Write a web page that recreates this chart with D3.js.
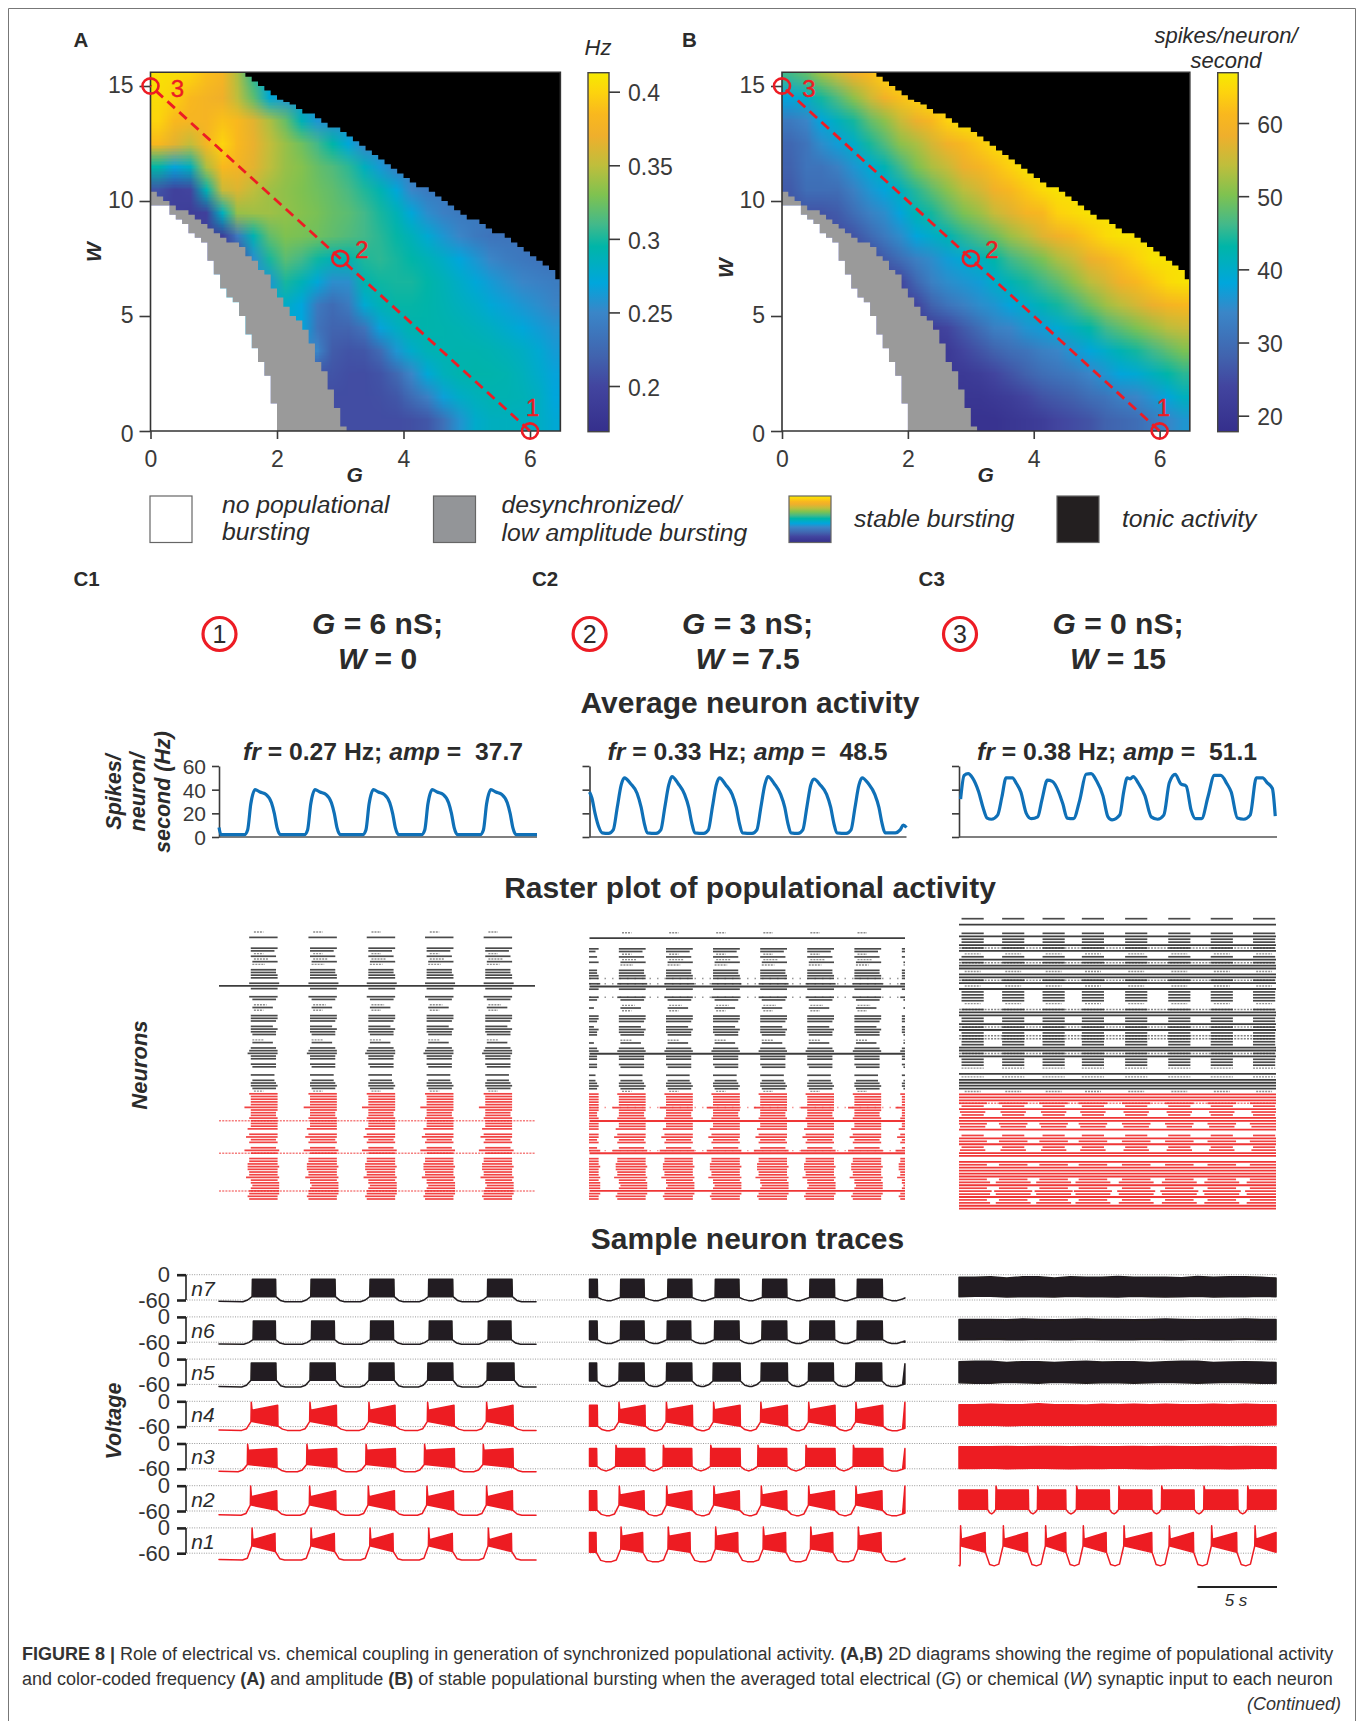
<!DOCTYPE html>
<html><head><meta charset="utf-8">
<script src="https://cdn.jsdelivr.net/npm/d3@7"></script>
<style>
html,body{margin:0;padding:0;background:#fff}
svg{display:block}
text{font-family:"Liberation Sans",Arial,sans-serif;fill:#2b2b2b;white-space:pre}
.ax path,.ax line{stroke:#3a3a3a;stroke-width:1.6}
.ax text{font-size:23px;fill:#3a3a3a}
</style></head><body>
<svg id="fig" width="1362" height="1721"></svg>
<script>
// ---------- colour map ----------
const cmapPos=[0,.127,.209,.332,.414,.516,.578,.66,.742,.824,.885,.947,1];
const cmapCol=["#352f8c","#42459f","#4163ae","#3a86c8","#00a6dc","#00b5a8","#43b98a","#7fc250","#bfbe3c","#efaf2c","#f9b81e","#fdd40d","#f6ea00"];
const barFreqRange=[.169,.413], barAmpRange=[17.8,66.9];
// ---------- regime boundaries (W value for each 0.1 step of G) ----------
const boundaryStep=.1;
const blackW=[15.8,15.8,15.8,15.8,15.8,15.8,15.8,15.8,15.8,15.8,15.8,15.8,15.8,15.8,15.6,15.4,15.2,15.0,14.8,14.6,14.4,14.3,14.2,14.0,13.8,13.8,13.6,13.4,13.2,13.2,13.0,12.8,12.6,12.4,12.2,12.0,11.8,11.6,11.4,11.2,11.0,10.8,10.6,10.6,10.4,10.2,10.0,9.8,9.6,9.4,9.2,9.2,9.0,8.8,8.6,8.6,8.4,8.2,8.0,7.8,7.6,7.4,7.2,7.0,6.6,6.4];
const stableW=[10.4,10.2,10.0,9.8,9.6,9.6,9.4,9.2,9.0,8.8,8.6,8.4,8.2,8.2,8.0,7.6,7.4,7.0,6.8,6.2,5.8,5.4,5.0,4.8,4.4,3.8,3.0,2.6,1.8,1.0,0.2,0];
const whiteW=[9.8,9.8,9.8,9.4,9.2,9.0,8.6,8.4,8.2,7.4,6.8,6.2,5.8,5.6,5.0,4.2,3.6,3.0,2.4,1.2,0];
// ---------- heat map tables: rows W=15.5 ... 0.5, columns G=0.125 ... 6.375 ----------
const freqRows=[
[.408,.405,.400,.388,.380,.345,.305,.270,.260,.260,.260,.260,.260,.260,.260,.260,.260,.260,.260,.260,.260,.260,.260,.260,.260,.260],
[.405,.398,.385,.378,.372,.350,.320,.275,.260,.260,.260,.260,.260,.260,.260,.260,.260,.260,.260,.260,.260,.260,.260,.260,.260,.260],
[.400,.385,.380,.380,.390,.385,.365,.345,.322,.288,.260,.255,.255,.255,.255,.255,.255,.255,.255,.255,.255,.255,.255,.255,.255,.255],
[.385,.365,.352,.380,.400,.385,.368,.352,.338,.325,.310,.295,.272,.250,.250,.250,.250,.250,.250,.250,.250,.250,.250,.250,.250,.250],
[.295,.268,.285,.345,.385,.378,.365,.350,.338,.332,.322,.315,.305,.285,.262,.245,.245,.245,.245,.245,.245,.245,.245,.245,.245,.245],
[.210,.195,.200,.290,.355,.362,.350,.340,.335,.330,.325,.320,.312,.302,.290,.272,.250,.240,.240,.240,.240,.240,.240,.240,.240,.240],
[.195,.195,.190,.195,.285,.338,.340,.340,.336,.332,.328,.322,.318,.310,.300,.288,.272,.255,.245,.240,.240,.240,.240,.240,.240,.240],
[.195,.195,.195,.195,.190,.240,.290,.320,.330,.328,.325,.320,.315,.310,.304,.296,.287,.275,.260,.250,.240,.235,.235,.235,.235,.235],
[.195,.195,.195,.195,.195,.195,.255,.300,.318,.310,.298,.288,.292,.302,.305,.300,.295,.288,.280,.270,.260,.250,.242,.238,.235,.232],
[.260,.260,.260,.260,.260,.260,.260,.260,.300,.288,.272,.255,.255,.292,.298,.300,.300,.295,.288,.280,.272,.263,.256,.250,.246,.242],
[.280,.280,.280,.280,.280,.280,.280,.280,.280,.270,.240,.228,.240,.275,.288,.296,.296,.294,.290,.285,.280,.273,.266,.260,.255,.248],
[.270,.270,.270,.270,.270,.270,.270,.270,.270,.270,.235,.222,.222,.235,.268,.282,.292,.293,.292,.290,.287,.283,.277,.271,.264,.258],
[.250,.250,.250,.250,.250,.250,.250,.250,.250,.250,.250,.215,.210,.212,.228,.260,.278,.288,.291,.292,.292,.290,.287,.282,.275,.263],
[.210,.210,.210,.210,.210,.210,.210,.210,.210,.210,.210,.210,.206,.205,.210,.225,.250,.273,.286,.292,.294,.293,.291,.286,.278,.268],
[.205,.205,.205,.205,.205,.205,.205,.205,.205,.205,.205,.205,.205,.205,.207,.212,.228,.245,.266,.280,.286,.290,.290,.288,.283,.270],
[.205,.205,.205,.205,.205,.205,.205,.205,.205,.205,.205,.205,.205,.205,.205,.205,.207,.212,.232,.258,.278,.284,.285,.284,.282,.274]];
const ampRows=[
[46,48,52,55,58,61,64,66,66,66,66,66,66,66,66,66,66,66,66,66,66,66,66,66,66,66],
[38,40,44,47,51,55,59,62,64,66,66,66,66,66,66,66,66,66,66,66,66,66,66,66,66,66],
[32,34,38,41,44,48,51,55,58,61,64,66,66,66,66,66,66,66,66,66,66,66,66,66,66,66],
[29,31,35,37,40,44,47,51,53,56,59,61,63,65,66,66,66,66,66,66,66,66,66,66,66,66],
[28,31,31,33,36,39,42,46,50,53,55,58,60,62,64,66,66,66,66,66,66,66,66,66,66,66],
[27,30,30,30,33,36,38,41,45,48,51,54,56,59,61,63,65,66,66,66,66,66,66,66,66,66],
[26,26,26,27,30,33,35,38,42,44,47,50,52,55,57,60,61,64,65,66,66,66,66,66,66,66],
[25,25,25,25,26,29,32,35,38,40,42,45,47,49,52,54,57,59,61,63,65,66,66,66,66,66],
[24,24,24,24,24,24,27,30,33,35,37,39,41,43,46,48,50,53,55,58,60,62,64,66,66,66],
[23,23,23,23,23,23,23,24,29,33,35,36,37,40,42,44,46,48,51,54,56,59,61,63,65,66],
[23,23,23,23,23,23,23,23,24,28,31,33,35,36,38,40,42,44,46,49,52,54,56,58,60,61],
[22,22,22,22,22,22,22,22,22,22,24,27,30,33,34,36,37,39,41,43,46,48,50,52,54,55],
[21,21,21,21,21,21,21,21,21,21,21,24,26,28,30,31,33,34,36,38,40,42,44,46,48,50],
[21,21,21,21,21,21,21,21,21,21,21,21,22,24,26,28,30,31,32,34,36,38,39,41,43,45],
[20,20,20,20,20,20,20,20,20,20,20,20,20,21,22,24,26,27,28,30,31,33,34,36,38,41],
[19,19,19,19,19,19,19,19,19,19,19,19,19,19,20,21,22,24,25,26,28,29,30,32,34,36]];
const freqTicks=[.2,.25,.3,.35,.4], ampTicks=[20,30,40,50,60];
const gTicks=[0,2,4,6], wTicks=[0,5,10,15];
const pathPoints=[[6,0,"1"],[3,7.5,"2"],[0,15,"3"]];
// ---------- average neuron activity ----------
const c1Time=[0,.12,1.6,1.8,2,2.27,2.58,2.96,3.3,3.48,3.65,3.86,5.37,5.57,5.77,6.04,6.35,6.73,7.07,7.25,7.42,7.63,9.04,9.24,9.44,9.71,10.02,10.4,10.74,10.92,11.09,11.3,12.74,12.94,13.14,13.41,13.72,14.1,14.44,14.62,14.79,15,16.43,16.63,16.83,17.1,17.41,17.79,18.13,18.31,18.48,18.69,20];
const c1Rate=[8,2,2,6,28,40,38,36,29,20,8,2,2,6,28,40,38,36,29,20,8,2,2,6,28,40,38,36,29,20,8,2,2,6,28,40,38,36,29,20,8,2,2,6,28,40,38,36,29,20,8,2,2];
const c2Time=[0,.15,.35,.6,.8,1.2,1.5,1.75,2,2.2,2.6,3,3.26,3.45,3.65,4.2,4.5,4.75,5,5.2,5.6,6,6.26,6.45,6.65,7.2,7.5,7.75,8,8.2,8.6,9,9.26,9.45,9.65,10.26,10.56,10.81,11.06,11.26,11.66,12.06,12.32,12.51,12.71,13.16,13.46,13.71,13.96,14.16,14.56,14.96,15.22,15.41,15.61,16.2,16.5,16.75,17,17.2,17.6,18,18.26,18.45,18.65,19.3,19.6,19.8,20];
const c2Rate=[38,33,20,8,3.5,3,6,25,44,50,45,37,25,12,3.5,3,6,25,44,51,45,36,25,12,3.5,3,6,25,44,50,44,36,25,12,3.5,3,6,25,44,51,45,36,25,12,3.5,3,6,25,44,49,44,36,25,12,3.5,3,6,25,44,50,45,36,25,12,3.5,3.5,6,10,8];
const c3Time=[.1,.32,.58,.85,1.24,1.51,1.77,2.04,2.43,2.7,2.96,3.36,3.62,3.89,4.23,4.55,4.95,5.21,5.56,5.87,6.27,6.53,6.8,7.2,7.59,7.99,8.31,8.65,9.05,9.37,9.63,10.11,10.37,10.58,10.77,10.95,11.3,11.69,12.09,12.49,12.88,13.23,13.6,13.94,14.29,14.6,14.87,15.26,15.66,16.06,16.46,16.85,17.12,17.51,17.91,18.31,18.7,19.1,19.37,19.71,19.89];
const c3Rate=[32,52,53.6,50,38,25,16,15,18.5,34,50,50,45,38,20,15.5,17,31,48,47,38,28,16,15.5,31,53,53.6,47.5,35,17,14.4,18.5,39,50,49,51,45,35,17,15,18.5,46,53,45,43,22.7,15.5,15.5,34,52,52,45,38,16,15,18.5,50,50,46,41,17.7];
const rateTicks=[0,20,40,60];
// ---------- raster rows (100 neurons, top to bottom) ----------
const c1RowKinds="s.B...BBsBsBs.BBBB.BFB..BB.sBs.BBB.BBBB.sB.BBBBB.BB..B.BBBBsBBBBBBBBBBfBBB.BBBB.BBf.BBBBBBBBBBBBfBBB";
const c2RowKinds="s.F...BBsBsBs.BBBg.gFB..gB.sBs.BBB.BBBB.sB.BBFBB.BB..B.BBBBsBBBBBgBBBBFBBB.BBBB.BgF.BBBBBBBBBBBBFBBB";
const c3RowKinds="B.F..BFBBFfFsBFfFFsFFfFsFBBBBs.fFFBBFfFBffBBFFfFBBBs.FsFFFFsFFFfBFBBFFBBF.BFBFBBFF.FBFFFFBBFBBBFBBFF";
const rowLeadTenths="6090008868677088880988009706760888088870770 89a88087008078876 98888c8889888a09b8908c8099aaa99b887899a9".replace(/ /g,"");
const rowTrailTenths="0090009708391088990a9900980260099806988006089988088007078980999999988999990998908a90999a999a9aaaaa99";
const c3RowHalfTenths="7777777777775777775777757777757777777777777777777777577777759999798799989979997899999a9999bc9cba9b999";
const c1Bursts=[2.81,6.56,10.25,13.94,17.65];
const c2Bursts=[-.32,2.66,5.65,8.63,11.62,14.6,17.59,20.6];
const c3Bursts=[.86,3.42,5.97,8.45,11.18,13.9,16.58,19.25];
// ---------- sample traces, mV ----------
const traceNames=["n7","n6","n5","n4","n3","n2","n1"];
const c1Traces=[
{on:[2.10,5.79,9.50,13.19,16.90],off:[3.56,7.30,11.00,14.70,18.43],top:[-11,-11],bot:[-52,-52],base:-64},
{on:[2.16,5.83,9.54,13.23,16.94],off:[3.54,7.25,10.96,14.65,18.36],top:[-10,-10],bot:[-54,-54],base:-65},
{on:[2.03,5.74,9.45,13.14,16.88],off:[3.58,7.30,11.00,14.70,18.55],top:[-9,-9],bot:[-50,-50],base:-66},
{on:[2.03,5.72,9.43,13.12,16.83],off:[3.69,7.38,11.07,14.78,18.49],top:[-21,-9.5],bot:[-48,-59],base:-69,tip:-2},
{on:[1.80,5.53,9.25,12.93,16.62],off:[3.63,7.40,11.09,14.80,18.49],top:[-16,-12],bot:[-50,-57],base:-67,tip:-2},
{on:[1.99,5.70,9.39,13.08,16.83],off:[3.63,7.34,11.03,14.74,18.45],top:[-26,-12],bot:[-46,-58],base:-70,tip:-1},
{on:[2.08,5.79,9.50,13.19,16.94],off:[3.52,7.25,10.94,14.67,18.39],top:[-28,-13],bot:[-43,-56],base:-76,tip:0}];
const c2Traces=[
{on:[0,1.97,4.95,7.94,10.93,13.91,16.90],off:[.49,3.44,6.45,9.43,12.44,15.45,18.47],top:[-11,-11],bot:[-54,-54],base:-61.5,endV:-55},
{on:[0,1.97,4.91,7.90,10.89,13.91,16.90],off:[.48,3.44,6.38,9.43,12.44,15.45,18.47],top:[-10,-10],bot:[-54,-54],base:-63,endV:-60},
{on:[0,1.88,4.87,7.81,10.84,13.83,16.81],off:[.45,3.44,6.45,9.50,12.48,15.38,18.43],top:[-9,-9],bot:[-52,-52],base:-65,endV:-11},
{on:[0,1.86,4.85,7.83,10.81,13.83,16.81],off:[.49,3.50,6.49,9.50,12.48,15.49,18.50],top:[-20,-9.5],bot:[-49,-59],base:-70,tip:-2,endV:-2},
{on:[0,1.67,4.66,7.65,10.63,13.66,16.65],off:[.45,3.48,6.45,9.50,12.44,15.49,18.50],top:[-12,-12],bot:[-54,-54],base:-65,tip:-4,endV:-12},
{on:[0,1.88,4.87,7.85,10.84,13.83,16.81],off:[.45,3.44,6.45,9.45,12.44,15.45,18.45],top:[-22,-12],bot:[-46,-58],base:-71,tip:-1,endV:-1},
{on:[0,1.99,4.97,7.96,10.97,13.96,16.96],off:[.41,3.35,6.34,9.35,12.37,15.34,18.39],top:[-20,-11],bot:[-50,-58],base:-80,tip:2,endV:-72}];
const tonicStep=1;
const tonicN7Top=[-6,-6,-5,-8,-5,-5,-8,-5,-6,-6,-4,-6,-6,-6,-7,-4,-6,-5,-5,-6,-8];
const tonicN7Bot=[-52,-51,-51,-53,-52,-52,-53,-51,-52,-52,-53,-51,-52,-53,-52,-51,-53,-52,-52,-51,-52];
const tonicN6Top=[-6,-6,-6,-7,-5,-6,-7,-6,-5,-6,-6,-7,-6,-5,-6,-7,-6,-6,-5,-6,-6];
const tonicN6Bot=[-54,-54,-53,-54,-54,-53,-54,-54,-53,-54,-54,-54,-53,-54,-54,-53,-54,-54,-53,-54,-54];
const tonicN5Top=[-6,-5,-5,-8,-6,-6,-8,-6,-5,-7,-6,-6,-8,-6,-5,-5,-8,-7,-6,-7,-8];
const tonicN5Bot=[-56,-57,-57,-55,-56,-57,-55,-56,-57,-56,-56,-57,-56,-55,-56,-57,-56,-55,-56,-57,-57];
const tonicN4Top=[-8,-8,-7,-8,-8,-6,-8,-8,-9,-7,-8,-7,-8,-7,-8,-8,-7,-8,-7,-8,-8];
const tonicN4Bot=[-57,-57,-56,-58,-57,-57,-56,-57,-56,-57,-57,-57,-56,-57,-57,-56,-57,-57,-56,-57,-56];
const tonicN3Top=[-8,-8,-8,-7,-8,-7,-7,-8,-7,-8,-8,-7,-8,-7,-8,-8,-7,-8,-7,-8,-8];
const tonicN3Bot=[-59,-59,-58,-60,-59,-58,-59,-60,-59,-59,-58,-59,-60,-59,-58,-59,-59,-60,-59,-58,-59];
const c3Traces=[
{tonicTop:tonicN7Top,tonicBot:tonicN7Bot},{tonicTop:tonicN6Top,tonicBot:tonicN6Bot},{tonicTop:tonicN5Top,tonicBot:tonicN5Bot},
{tonicTop:tonicN4Top,tonicBot:tonicN4Bot},{tonicTop:tonicN3Top,tonicBot:tonicN3Bot},
{on:[0,2.33,4.95,7.40,10.06,12.75,15.41,18.16],off:[1.78,4.36,6.71,9.45,12.12,14.78,17.53,19.94],top:[-10,-10],bot:[-56,-56],base:-67,tip:-1},
{on:[.1,2.79,5.45,7.82,10.38,13.23,15.89,18.62],off:[1.64,4.30,6.71,9.25,12.12,14.74,17.46,19.94],top:[-27,-11],bot:[-43,-58],base:-90,tip:5}];
const blackTraceCount=3;
const voltTicks=[0,-60];

// ---------- drawing ----------
const svg=d3.select("#fig");
const defs=svg.append("defs");
function softFilter(id,sd){const f=defs.append("filter").attr("id",id).attr("filterUnits","userSpaceOnUse").attr("x",0).attr("y",0).attr("width",1362).attr("height",1721);
  f.append("feGaussianBlur").attr("stdDeviation",sd);}
softFilter("soft",.6);softFilter("soft2",.3);
const RED="#ed1c24",BLK="#231f20";
const ramp=d3.scaleLinear().domain(cmapPos).range(cmapCol).interpolate(d3.interpolateRgb).clamp(true);
const gradId=(id)=>{const g=defs.append("linearGradient").attr("id",id).attr("x1",0).attr("x2",0).attr("y1",1).attr("y2",0);
  cmapPos.forEach((p,i)=>g.append("stop").attr("offset",p).attr("stop-color",cmapCol[i]));};
gradId("bar");

function label(x,y,t,o={}){const e=svg.append("text").attr("x",x).attr("y",y).attr("dy",".35em").text(t)
  .attr("text-anchor",o.anchor||"start").style("font-size",(o.size||20)+"px")
  .style("font-weight",o.bold?"bold":"normal").style("font-style",o.italic?"italic":"normal");
  if(o.fill)e.style("fill",o.fill);
  if(o.rot)e.attr("transform",`rotate(${o.rot} ${x} ${y})`);return e;}

svg.append("path").attr("d","M8.5,1721V8.5H1355.5V1721").attr("fill","none").attr("stroke","#777").attr("stroke-width",1);

function heatPanel(o){
  const g=svg.append("g");
  const x=d3.scaleLinear().domain([0,6]).range(o.xr);
  const y=d3.scaleLinear().domain([0,15]).range([431,86]);
  const v2p=d3.scaleLinear().domain(o.range).range([0,1]);
  const rows=o.rows,cnv=document.createElement("canvas");
  cnv.width=rows[0].length;cnv.height=rows.length;
  const ctx=cnv.getContext("2d");
  rows.forEach((r,j)=>r.forEach((v,i)=>{ctx.fillStyle=ramp(v2p(v));ctx.fillRect(i,j,1,1);}));
  const right=x(6.48),top=y(15.6),clip="clip"+o.id;
  defs.append("clipPath").attr("id",clip).append("rect").attr("x",x(0)).attr("y",top).attr("width",right-x(0)).attr("height",y(0)-top);
  const inner=g.append("g").attr("clip-path",`url(#${clip})`);
  inner.append("image").attr("href",cnv.toDataURL()).attr("x",x(0)).attr("y",y(16)).attr("width",x(6.5)-x(0)).attr("height",y(0)-y(16)).attr("preserveAspectRatio","none");
  const gOf=(d,i)=>x(i*boundaryStep);
  inner.append("path").attr("fill","#000").attr("d",d3.area().x(gOf).y0(top-2).y1(d=>y(d)).curve(d3.curveStepAfter)(blackW));
  inner.append("path").attr("fill","#9a9a9a").attr("d",d3.area().x(gOf).y0((d,i)=>y(whiteW[i]||0)).y1(d=>y(d)).curve(d3.curveStepAfter)(stableW));
  inner.append("path").attr("fill","#fff").attr("d",d3.area().x(gOf).y0(y(0)).y1(d=>y(d)).curve(d3.curveStepAfter)(whiteW));
  g.append("path").attr("fill","none").attr("stroke","#333").attr("stroke-width",1.6)
    .attr("d",`M${x(0)},${top}H${right}V${y(0)}H${x(0)}Z`);
  const xa=g.append("g").attr("class","ax").attr("transform",`translate(0,${y(0)})`).call(d3.axisBottom(x).tickValues(gTicks).tickFormat(d=>String(d)).tickSize(8).tickPadding(12).tickSizeOuter(0));
  xa.select(".domain").remove();
  const ya=g.append("g").attr("class","ax").attr("transform",`translate(${x(0)},0)`).call(d3.axisLeft(y).tickValues(wTicks).tickFormat(d=>String(d)).tickSize(11).tickPadding(6).tickSizeOuter(0));
  ya.select(".domain").remove();
  ya.selectAll("text").attr("dy",d=>d===0?".45em":".27em");
  // colour bar
  const bar=d3.scaleLinear().domain(o.barTicksRef[0]).range(o.barTicksRef[1]);
  g.append("rect").attr("x",o.barX).attr("y",72.7).attr("width",o.barW).attr("height",359).attr("fill","url(#bar)").attr("stroke","#444").attr("stroke-width",1.4);
  const ba=g.append("g").attr("class","ax").attr("transform",`translate(${o.barX+o.barW},0)`).call(d3.axisRight(bar).tickValues(o.ticks).tickFormat(o.fmt).tickSize(11).tickPadding(8).tickSizeOuter(0));
  ba.select(".domain").remove();
  ba.selectAll("text").attr("dy",".4em");
  // selected path
  const pts=pathPoints;
  g.append("line").attr("x1",x(pts[0][0])).attr("y1",y(pts[0][1])).attr("x2",x(pts[2][0])).attr("y2",y(pts[2][1])).attr("stroke",RED).attr("stroke-width",2.8).attr("stroke-dasharray","10 6");
  g.selectAll(".pt").data(pts).join("ellipse").attr("cx",d=>x(d[0])).attr("cy",d=>y(d[1])).attr("rx",8).attr("ry",7.6).attr("fill","none").attr("stroke",RED).attr("stroke-width",2.6);
  o.numLabels.forEach((p,i)=>{label(p[0],p[1],pts[i][2],{size:24,fill:RED,anchor:"middle"}).attr("stroke",RED).attr("stroke-width",.4);});
}
heatPanel({id:"A",xr:[150.5,530],rows:freqRows,range:barFreqRange,barX:588,barW:21,barTicksRef:[[.2,.4],[386,91.7]],ticks:freqTicks,fmt:d=>String(d),numLabels:[[532.7,408],[362,250],[177.5,89]]});
heatPanel({id:"B",xr:[782,1159.6],rows:ampRows,range:barAmpRange,barX:1217.7,barW:20.5,barTicksRef:[[20,60],[415.7,123]],ticks:ampTicks,fmt:d=>String(d),numLabels:[[1163.5,408],[992,250],[809,89]]});

label(73.5,40,"A",{size:20.5,bold:true});label(682,40,"B",{size:20.5,bold:true});
label(598,47.5,"Hz",{size:22,italic:true,anchor:"middle"});
label(1226,35,"spikes/neuron/",{size:22,italic:true,anchor:"middle"});
label(1226,60,"second",{size:22,italic:true,anchor:"middle"});
label(93.5,252,"W",{size:21,bold:true,italic:true,anchor:"middle",rot:-90});
label(725.5,268,"W",{size:21,bold:true,italic:true,anchor:"middle",rot:-90});
label(354.7,475,"G",{size:21,bold:true,italic:true,anchor:"middle"});
label(985.7,475,"G",{size:21,bold:true,italic:true,anchor:"middle"});

// legend
const lg=[[150,"#fff"],[433.5,"#939598"],[789,"url(#bar)"],[1057,"#231f20"]];
svg.selectAll(".lg").data(lg).join("rect").attr("x",d=>d[0]).attr("y",496).attr("width",42).attr("height",46.5).attr("fill",d=>d[1]).attr("stroke","#666").attr("stroke-width",1.2);
[[222,504,"no populational"],[222,531,"bursting"],[501.5,504,"desynchronized/"],[501.5,532,"low amplitude bursting"],[854,518,"stable bursting"],[1122,518,"tonic activity"]]
 .forEach(d=>label(d[0],d[1],d[2],{size:24.7,italic:true}));

// column heads
[[73.5,"C1"],[532,"C2"],[918.6,"C3"]].forEach(d=>label(d[0],579,d[1],{size:20.5,bold:true}));
function mixed(x,y,parts,size,anchor="middle"){const t=svg.append("text").attr("x",x).attr("y",y).attr("dy",".35em").attr("text-anchor",anchor).style("font-size",size+"px").style("font-weight","bold");
  parts.forEach(p=>t.append("tspan").style("font-style",p[1]?"italic":"normal").style("font-weight",p[2]===0?"normal":"bold").text(p[0]));return t;}
[[219.5,377.5,"1","6","0"],[589.6,747.5,"2","3","7.5"],[960,1118,"3","0","15"]].forEach(d=>{
  svg.append("circle").attr("cx",d[0]).attr("cy",634).attr("r",16.5).attr("fill","#fff").attr("stroke",RED).attr("stroke-width",3.2);
  label(d[0],634.5,d[2],{size:25,anchor:"middle"});
  mixed(d[1],623,[["G",1],[" = "+d[3]+" nS;",0]],30);
  mixed(d[1],658.5,[["W",1],[" = "+d[4],0]],30);
});
label(750,702,"Average neuron activity",{size:30,bold:true,anchor:"middle"});
label(750,887,"Raster plot of populational activity",{size:30,bold:true,anchor:"middle"});
label(747.5,1238,"Sample neuron traces",{size:30,bold:true,anchor:"middle"});
[[383,"0.27","37.7"],[747.5,"0.33","48.5"],[1117,"0.38","51.1"]].forEach(d=>mixed(d[0],751,[["fr",1],[" = "+d[1]+" Hz; ",0],["amp",1],[" =  "+d[2],0]],24.7));
label(113,792,"Spikes/",{size:21.5,bold:true,italic:true,anchor:"middle",rot:-90});
label(137,792,"neuron/",{size:21.5,bold:true,italic:true,anchor:"middle",rot:-90});
label(162,792,"second (Hz)",{size:21.5,bold:true,italic:true,anchor:"middle",rot:-90});
label(139.5,1065,"Neurons",{size:22,bold:true,italic:true,anchor:"middle",rot:-90});
label(113,1421,"Voltage",{size:21.5,bold:true,italic:true,anchor:"middle",rot:-90});

// average activity
const panelsX=[[219,537],[589.5,906.5],[959,1277]];
const rateY=d3.scaleLinear().domain([0,60]).range([837,766]);
[[c1Time,c1Rate],[c2Time,c2Rate],[c3Time,c3Rate]].forEach((d,k)=>{
  const x=d3.scaleLinear().domain([0,20]).range(panelsX[k]);
  const g=svg.append("g");
  const a=g.append("g").attr("class","ax").attr("transform",`translate(${panelsX[k][0]},0)`)
    .call(d3.axisLeft(rateY).tickValues(rateTicks).tickSize(7).tickPadding(6).tickSizeOuter(0));
  a.selectAll("text").style("font-size","21px").attr("dy",".36em");
  if(k>0)a.selectAll("text").remove();
  g.append("line").attr("x1",panelsX[k][0]).attr("x2",panelsX[k][1]).attr("y1",rateY(0)).attr("y2",rateY(0)).attr("stroke","#555").attr("stroke-width",1.4);
  g.append("path").attr("fill","none").attr("stroke","#0f70b7").attr("stroke-width",3.2).attr("stroke-linejoin","round")
   .attr("d",d3.line().x((v,i)=>x(d[0][i])).y(v=>rateY(v)).curve(d3.curveMonotoneX)(d[1]));
});

// raster
const rasterGroup=svg.append("g").attr("filter","url(#soft)");
function rasterPanel(xr,yr,kinds,bursts,halves){
  const x=d3.scaleLinear().domain([0,20]).range(xr),y=d3.scaleLinear().domain([0,99]).range(yr);
  const id="cr"+Math.round(xr[0]);
  defs.append("clipPath").attr("id",id).append("rect").attr("x",xr[0]).attr("y",yr[0]-4).attr("width",xr[1]-xr[0]).attr("height",yr[1]-yr[0]+8);
  const g=rasterGroup.append("g").attr("clip-path",`url(#${id})`);
  const segs=[];
  kinds.split("").forEach((k,i)=>{
    if(k===".")return;
    const col=i>=60?"#ef2b2b":"#333";
    if(k==="F"){segs.push({a:0,b:20,i,col,w:1.8,op:.95});return;}
    if(k==="f")segs.push({a:0,b:20,i,col,w:1.5,op:.6,dash:"2 1.2"});
    if(k==="g")segs.push({a:0,b:20,i,col,w:1.4,op:.5,dash:"1.5 6"});
    bursts.forEach(c=>{
      let l,r;
      if(halves){l=r=parseInt(halves[i],36)/10;}
      else{l=parseInt(rowLeadTenths[i],36)/10;r=parseInt(rowTrailTenths[i],36)/10;}
      segs.push(k==="s"?{a:c-l,b:c+r,i,col,w:1.4,op:.55,dash:"2 1"}:{a:c-l,b:c+r,i,col,w:1.7,op:.88});
    });
  });
  g.selectAll("line").data(segs).join("line").attr("x1",d=>x(d.a)).attr("x2",d=>x(d.b)).attr("y1",d=>y(d.i)).attr("y2",d=>y(d.i))
    .attr("stroke",d=>d.col).attr("stroke-width",d=>d.w).attr("opacity",d=>d.op).attr("stroke-dasharray",d=>d.dash||null);
}
rasterPanel([219,535],[932,1199],c1RowKinds,c1Bursts);
rasterPanel([589.5,905],[932.7,1199],c2RowKinds,c2Bursts);
rasterPanel([959,1276],[918.7,1208.7],c3RowKinds,c3Bursts,c3RowHalfTenths);

// traces
function envelope(tr,tEnd){
  if(tr.tonicTop)return tr.tonicTop.map((v,i)=>({t:Math.min(i*tonicStep,tEnd),hi:v,lo:tr.tonicBot[i]}));
  const p=[],b=tr.base;
  let prev=null;
  tr.on.forEach((on,k)=>{
    const off=tr.off[k];
    if(on===0){p.push({t:0,hi:tr.top[1],lo:tr.bot[1]});p.push({t:off,hi:tr.top[1],lo:tr.bot[1]});prev=off;return;}
    const start=prev===null?0:prev,g=on-start,f=Math.min(.3,g*.25);
    if(prev===null)p.push({t:0,hi:b+1,lo:b+1});
    else{p.push({t:start+.02,hi:tr.bot[1],lo:tr.bot[1]});p.push({t:start+f,hi:b+3,lo:b+3});p.push({t:start+2*f,hi:b,lo:b});}
    p.push({t:on-2*f,hi:b,lo:b});p.push({t:on-f,hi:b+4,lo:b+4});p.push({t:on-.02,hi:tr.bot[0],lo:tr.bot[0]});
    p.push({t:on,hi:tr.tip!==undefined?tr.tip:tr.top[0],lo:tr.bot[0]});
    p.push({t:on+.05,hi:tr.top[0],lo:tr.bot[0]});
    p.push({t:off,hi:tr.top[1],lo:tr.bot[1]});
    prev=off;
  });
  if(prev<tEnd-.05){
    p.push({t:prev+.02,hi:tr.bot[1],lo:tr.bot[1]});p.push({t:prev+.3,hi:b+3,lo:b+3});p.push({t:prev+.6,hi:b,lo:b});
    if(tr.endV!==undefined){p.push({t:19.4,hi:b,lo:b});p.push({t:19.75,hi:b+4,lo:b+4});p.push({t:19.9,hi:tr.endV,lo:b+6});}
    else p.push({t:tEnd,hi:b,lo:b});
  }
  return p;
}
const traceTop=1274.7,traceGap=42.2,traceSpan=25.3;
const axisGroup=svg.append("g");
const dotted=axisGroup.append("g");
const traceGroup=svg.append("g").attr("filter","url(#soft2)");
traceNames.forEach((n,k)=>{
  const y=d3.scaleLinear().domain([0,-60]).range([traceTop+k*traceGap,traceTop+k*traceGap+traceSpan]);
  voltTicks.forEach(v=>dotted.append("line").attr("x1",187).attr("x2",1277).attr("y1",y(v)).attr("y2",y(v)).attr("stroke","#9a9a9a").attr("stroke-width",1).attr("stroke-dasharray","1 1.4"));
  const ax=axisGroup.append("g").attr("class","ax").attr("transform","translate(186,0)").call(d3.axisLeft(y).tickValues(voltTicks).tickFormat(d=>String(d)).tickSize(9).tickPadding(7).tickSizeOuter(0));
  ax.select(".domain").attr("d",`M0,${y(0)}V${y(-60)}`).style("stroke","#222").style("stroke-width",1.6);
  ax.selectAll("line").style("stroke","#222").style("stroke-width",2.6);
  ax.selectAll("text").style("font-size","22px").style("fill","#333");
  label(203,y(0)+13.5,n,{size:21,italic:true,anchor:"middle"});
  [c1Traces,c2Traces,c3Traces].forEach((set,j)=>{
    const x=d3.scaleLinear().domain([0,20]).range(panelsX[j]);
    const col=k<blackTraceCount?BLK:RED;
    traceGroup.append("path").attr("fill",col).attr("stroke",col).attr("stroke-width",1.5).attr("stroke-linejoin","round")
      .attr("d",d3.area().x(d=>x(d.t)).y0(d=>y(d.lo)).y1(d=>y(d.hi))(envelope(set[k],19.94)));
  });
});
// scale bar: 5 s on the 20 s time axis
const barScale=d3.scaleLinear().domain([0,20]).range(panelsX[2]);
svg.append("line").attr("x1",barScale(15)).attr("x2",barScale(20)).attr("y1",1587).attr("y2",1587).attr("stroke","#222").attr("stroke-width",1.8);
label(1236,1600,"5 s",{size:17,italic:true,anchor:"middle"});

// caption
function caption(x,y,parts,anchor){const t=svg.append("text").attr("x",x).attr("y",y).attr("text-anchor",anchor||"start").style("font-size","18px").style("fill","#333");
  parts.forEach(p=>t.append("tspan").style("font-weight",p[1]==="b"?"bold":"normal").style("font-style",p[1]==="i"?"italic":"normal").text(p[0]));}
caption(22,1660,[["FIGURE 8 | ","b"],["Role of electrical vs. chemical coupling in generation of synchronized populational activity. "],["(A,B)","b"],[" 2D diagrams showing the regime of populational activity"]]);
caption(22,1685,[["and color-coded frequency "],["(A)","b"],[" and amplitude "],["(B)","b"],[" of stable populational bursting when the averaged total electrical ("],["G","i"],[") or chemical ("],["W","i"],[") synaptic input to each neuron"]]);
caption(1341,1710,[["(Continued)","i"]],"end");
</script></body></html>
